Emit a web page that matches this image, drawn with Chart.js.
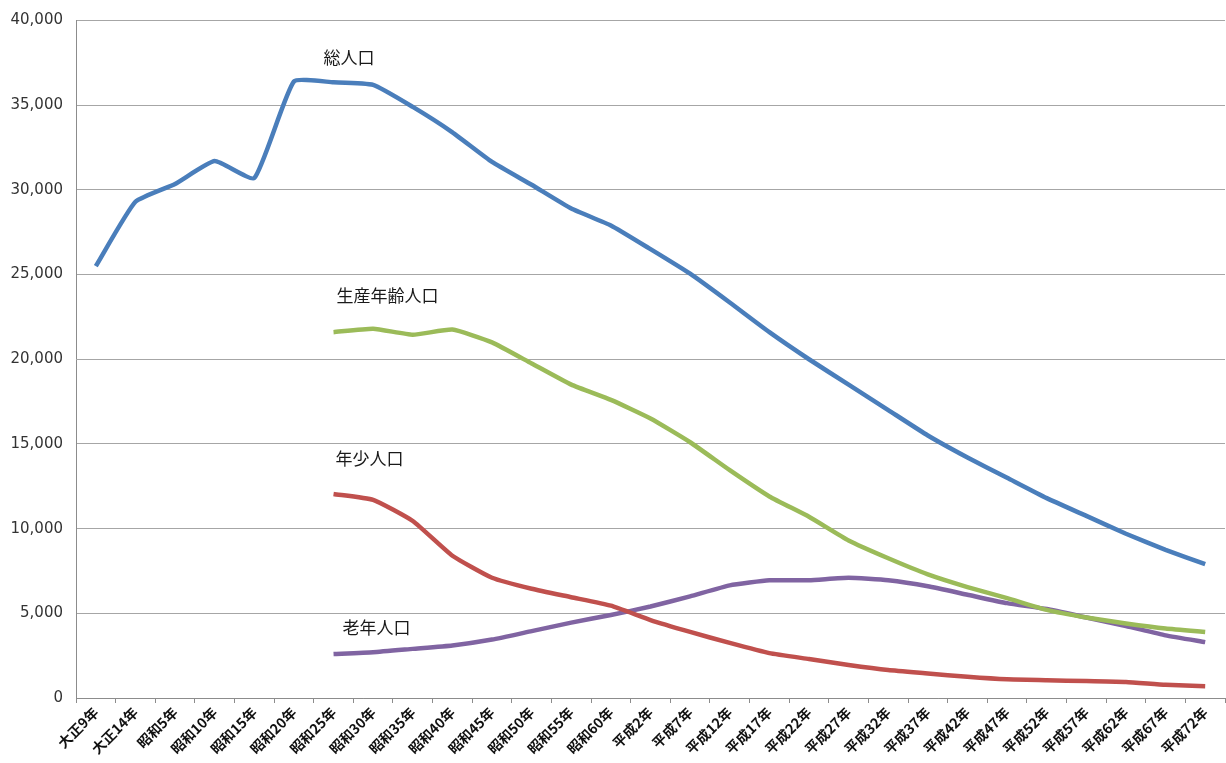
<!DOCTYPE html>
<html>
<head>
<meta charset="utf-8">
<script src="https://cdn.jsdelivr.net/npm/chart.js@4"></script>
<style>
  html, body { margin: 0; padding: 0; background: #fff; }
  #wrap { width: 1226px; height: 763px; position: relative; }
</style>
</head>
<body>
<div id="wrap"><canvas id="popChart"></canvas></div>
<script>
const years = ['大正9年', '大正14年', '昭和5年', '昭和10年', '昭和15年', '昭和20年', '昭和25年', '昭和30年',
  '昭和35年', '昭和40年', '昭和45年', '昭和50年', '昭和55年', '昭和60年', '平成2年', '平成7年', '平成12年',
  '平成17年', '平成22年', '平成27年', '平成32年', '平成37年', '平成42年', '平成47年', '平成52年', '平成57年',
  '平成62年', '平成67年', '平成72年'];

const total = [25500, 29300, 30350, 31700, 30700, 36400, 36350, 36200, 34900, 33400, 31650, 30300, 28900,
  27900, 26500, 25050, 23350, 21600, 20000, 18500, 17000, 15500, 14200, 13000, 11800, 10750, 9700, 8750, 7900];
const working = [null, null, null, null, null, null, 21600, 21800, 21450, 21750, 21000, 19750, 18500, 17600,
  16500, 15100, 13450, 11900, 10700, 9300, 8250, 7300, 6550, 5900, 5200, 4750, 4400, 4100, 3900];
const youth = [null, null, null, null, null, null, 12050, 11700, 10450, 8400, 7100, 6450, 5950, 5450, 4600,
  3900, 3250, 2650, 2300, 1950, 1650, 1450, 1250, 1100, 1050, 1000, 950, 780, 700];
const elderly = [null, null, null, null, null, null, 2600, 2700, 2900, 3100, 3450, 3950, 4450, 4900, 5400,
  6000, 6650, 6950, 6950, 7100, 6950, 6600, 6100, 5600, 5250, 4750, 4250, 3700, 3300];

const seriesNames = ['総人口', '生産年齢人口', '年少人口', '老年人口'];
const yTicks = [0, 5000, 10000, 15000, 20000, 25000, 30000, 35000, 40000];

// text labels next to the lines, anchored to category index / value
const labelAnchors = [
  { text: seriesNames[0], idx: 6, dx: -10, val: 37800 },
  { text: seriesNames[1], idx: 6, dx: 3, val: 23750 },
  { text: seriesNames[2], idx: 6, dx: 2, val: 14150 },
  { text: seriesNames[3], idx: 6, dx: 9, val: 4150 }
];

const lineLabels = {
  id: 'lineLabels',
  afterDatasetsDraw(chart) {
    const { ctx, scales } = chart;
    ctx.save();
    ctx.font = '17px "Noto Sans CJK JP"';
    ctx.fillStyle = '#1a1a1a';
    ctx.textBaseline = 'middle';
    ctx.textAlign = 'left';
    labelAnchors.forEach(a => {
      ctx.fillText(a.text, scales.x.getPixelForValue(a.idx) + a.dx, scales.y.getPixelForValue(a.val));
    });
    ctx.restore();
  }
};

const mkLine = (label, data, color) => ({
  label: label,
  data: data,
  borderColor: color,
  borderWidth: 4.5,
  pointRadius: 0,
  tension: 0.15,
  fill: false,
  spanGaps: false
});

const ctx = document.getElementById('popChart').getContext('2d');
new Chart(ctx, {
  type: 'line',
  data: {
    labels: years,
    datasets: [
      mkLine(seriesNames[0], total, '#4a7ebb'),
      mkLine(seriesNames[1], working, '#9bbb59'),
      mkLine(seriesNames[2], youth, '#c0504d'),
      mkLine(seriesNames[3], elderly, '#8064a2')
    ]
  },
  options: {
    responsive: true,
    maintainAspectRatio: false,
    animation: false,
    layout: { padding: { top: 16, right: 1, left: 0, bottom: 0 } },
    plugins: {
      legend: { display: false },
      tooltip: { enabled: false }
    },
    scales: {
      x: {
        offset: true,
        afterFit: (scale) => { scale.height = 65; },
        border: { color: '#8c8c8c', width: 1 },
        grid: {
          offset: true,
          drawOnChartArea: false,
          drawTicks: true,
          tickLength: 5,
          color: '#8c8c8c'
        },
        ticks: {
          autoSkip: false,
          maxRotation: 45,
          minRotation: 45,
          padding: 1,
          color: '#111',
          font: { family: '"Noto Sans CJK JP"', size: 14, weight: 'bold' }
        }
      },
      y: {
        min: 0,
        max: 40000,
        afterFit: (scale) => { scale.width = 76; },
        afterBuildTicks: (scale) => { scale.ticks = yTicks.map(v => ({ value: v })); },
        border: { color: '#8c8c8c', width: 1 },
        grid: {
          color: '#a6a6a6',
          lineWidth: 1,
          drawTicks: false
        },
        ticks: {
          padding: 13,
          color: '#333',
          font: { family: '"DejaVu Sans"', size: 15, lineHeight: 1 },
          callback: (v) => v.toLocaleString('en-US')
        }
      }
    }
  },
  plugins: [lineLabels]
});
</script>
</body>
</html>
